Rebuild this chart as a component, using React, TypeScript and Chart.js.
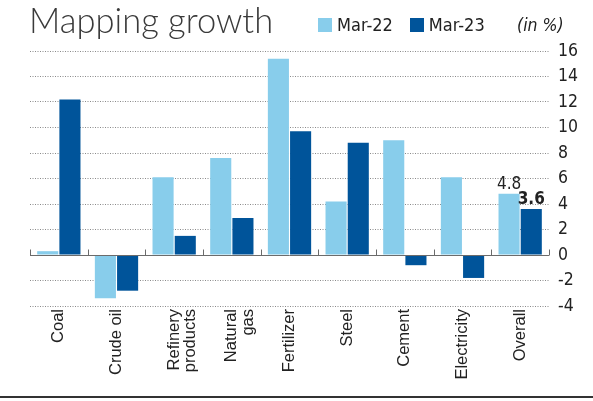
import React, { useEffect, useRef } from "react";
import { Chart, registerables } from "chart.js";

Chart.register(...registerables);

const categories: string[][] = [
  ["Coal"],
  ["Crude oil"],
  ["Refinery", "products"],
  ["Natural", "gas"],
  ["Fertilizer"],
  ["Steel"],
  ["Cement"],
  ["Electricity"],
  ["Overall"],
];
const seriesNames = ["Mar-22", "Mar-23"];
const mar22 = [0.3, -3.4, 6.1, 7.6, 15.4, 4.2, 9.0, 6.1, 4.8];
const mar23 = [12.2, -2.8, 1.5, 2.9, 9.7, 8.8, -0.8, -1.8, 3.6];
const yMin = -4;
const yMax = 16;
const yStep = 2;
const labelledIndex = 8;

const LIGHT = "#88cdeb";
const DARK = "#00549a";
const NARROW = "'Liberation Sans Narrow', 'DejaVu Sans Condensed', 'Liberation Sans', sans-serif";

const zeroLinePlugin = {
  id: "zeroLine",
  afterDatasetsDraw(chart: any) {
    const { ctx, chartArea, scales } = chart;
    const x = scales.x;
    const y = scales.y;
    const y0 = Math.round(y.getPixelForValue(0)) + 0.5;
    ctx.save();
    ctx.strokeStyle = "#6b6b6b";
    ctx.lineWidth = 1;
    ctx.beginPath();
    ctx.moveTo(chartArea.left, y0);
    ctx.lineTo(chartArea.right, y0);
    const n = categories.length;
    const half = (x.getPixelForValue(1) - x.getPixelForValue(0)) / 2;
    for (let i = 0; i <= n; i++) {
      const px = Math.round(x.getPixelForValue(Math.min(i, n - 1)) + (i === n ? half : -half)) + 0.5;
      ctx.moveTo(px, y0);
      ctx.lineTo(px, y0 - 6);
    }
    ctx.stroke();

    // value labels on the Overall bars
    const sets = [mar22, mar23];
    ctx.fillStyle = "#222";
    ctx.textAlign = "center";
    ctx.textBaseline = "bottom";
    sets.forEach((vals, di) => {
      const el = chart.getDatasetMeta(di).data[labelledIndex];
      ctx.font = (di === 1 ? "bold " : "") + "17px " + NARROW;
      ctx.fillText(vals[labelledIndex].toFixed(1), el.x, el.y - 1);
    });
    ctx.restore();
  },
};

export default function App() {
  const ref = useRef<HTMLCanvasElement>(null);
  useEffect(() => {
    if (!ref.current) return;
    const chart = new Chart(ref.current, {
      type: "bar",
      data: {
        labels: categories,
        datasets: [
          { label: seriesNames[0], data: mar22, backgroundColor: LIGHT, categoryPercentage: 0.77, barPercentage: 0.95 },
          { label: seriesNames[1], data: mar23, backgroundColor: DARK, categoryPercentage: 0.77, barPercentage: 0.95 },
        ],
      },
      options: {
        animation: false,
        responsive: false,
        maintainAspectRatio: false,
        layout: { padding: { left: 30, top: 51, right: 0, bottom: 0 } },
        plugins: { legend: { display: false }, tooltip: { enabled: false } },
        scales: {
          x: {
            grid: { display: false, drawTicks: false },
            border: { display: false },
            ticks: {
              minRotation: 90,
              maxRotation: 90,
              autoSkip: false,
              padding: 3,
              color: "#222",
              font: { family: "'Liberation Sans', Arial, sans-serif", size: 16.5, lineHeight: 1.0 },
            },
            afterFit(scale: any) {
              scale.height = 95;
            },
          },
          y: {
            position: "right",
            min: yMin,
            max: yMax,
            ticks: {
              stepSize: yStep,
              padding: 9,
              color: "#222",
              font: { family: NARROW, size: 17.5 },
            },
            grid: {
              drawTicks: false,
              color: (c: any) => (c.tick && c.tick.value === 0 ? "rgba(0,0,0,0)" : "#8a8a8a"),
              lineWidth: 1,
            },
            border: { display: false, dash: [1, 1.5] },
            afterFit(scale: any) {
              scale.width = 44;
            },
          },
        },
      },
      plugins: [zeroLinePlugin],
    });
    return () => chart.destroy();
  }, []);

  const legendText: React.CSSProperties = {
    fontFamily: NARROW,
    fontSize: 18,
    color: "#222",
    marginRight: 17,
  };
  const sq = (c: string): React.CSSProperties => ({
    display: "inline-block",
    width: 14,
    height: 14,
    background: c,
    marginRight: 5,
  });

  return (
    <div style={{ position: "fixed", left: 0, top: 0, width: 593, height: 401, background: "#fff", overflow: "hidden" }}>
      <canvas ref={ref} width={593} height={401} style={{ position: "absolute", left: 0, top: 0, width: 593, height: 401 }} />
      <div
        style={{
          position: "absolute",
          left: 29,
          top: -1,
          fontFamily: "Lato, 'Open Sans', sans-serif",
          fontWeight: 300,
          fontSize: 34.5,
          color: "#3a3a3a",
          whiteSpace: "nowrap",
        }}
      >
        Mapping growth
      </div>
      <div style={{ position: "absolute", left: 318, top: 14, display: "flex", alignItems: "center", whiteSpace: "nowrap" }}>
        <span style={sq(LIGHT)} />
        <span style={legendText}>{seriesNames[0]}</span>
        <span style={sq(DARK)} />
        <span style={legendText}>{seriesNames[1]}</span>
      </div>
      <div
        style={{
          position: "absolute",
          left: 517,
          top: 15,
          fontFamily: NARROW,
          fontStyle: "italic",
          fontSize: 17.5,
          color: "#222",
          whiteSpace: "nowrap",
        }}
      >
        (in %)
      </div>
      <div style={{ position: "absolute", left: 0, top: 396, width: 593, height: 2, background: "#333" }} />
    </div>
  );
}
